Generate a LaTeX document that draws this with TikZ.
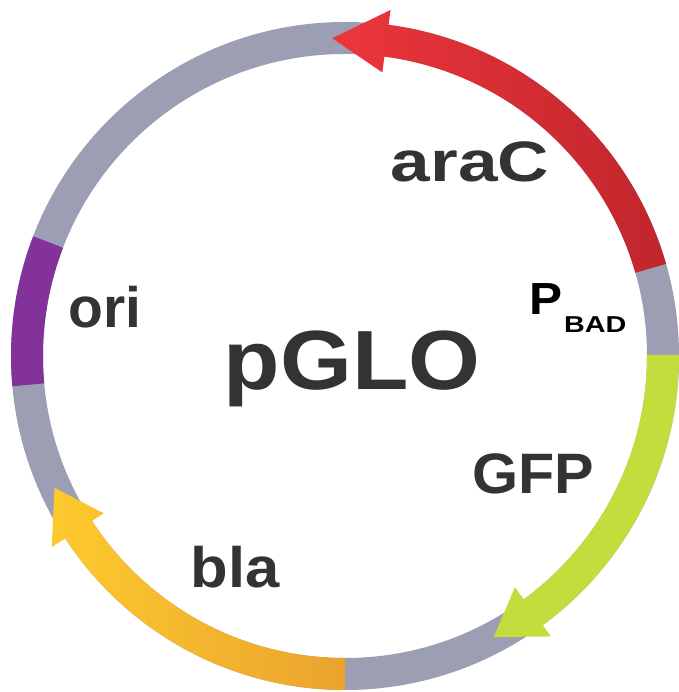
\documentclass[tikz,border=0pt]{standalone}
\usepackage{fontspec,graphicx}
\setmainfont{Liberation Sans}
\usetikzlibrary{positioning}
\definecolor{ringgray}{RGB}{156,158,180}
\definecolor{redlight}{RGB}{236,54,60}
\definecolor{reddark}{RGB}{192,38,44}
\definecolor{greengene}{RGB}{196,221,60}
\definecolor{yellowgene}{RGB}{253,202,46}
\definecolor{orangegene}{RGB}{234,163,46}
\definecolor{purplegene}{RGB}{130,50,152}
\definecolor{labelgray}{RGB}{51,51,51}

\begin{document}
\begin{tikzpicture}[x=1pt, y=1pt,
    gene/.style={inner sep=0pt, anchor=base, text=labelgray, font=\bfseries\fontsize{57}{57}\selectfont}]

                \useasboundingbox (-345,-336) rectangle (333,356);

                % backbone
                \draw [ringgray, line width=32pt] (0,0) circle [radius=318];

                % genes
                \shade [left color=redlight, right color=reddark] (16:334) arc [start angle=16, end angle=82.5, radius=334] -- (82.5:349) -- (92.3:318) -- (82.5:286) -- (82.5:302) arc [start angle=82.5, end angle=16, radius=302] -- cycle;
                \fill [greengene] (0.2:334) arc [start angle=0.2, end angle=-53.7, radius=334] -- (-53.7:348) -- (-62.1:318) -- (-53.7:287) -- (-53.7:302) arc [start angle=-53.7, end angle=0.2, radius=302] -- cycle;
                \shade [left color=yellowgene, right color=orangegene] (270:334) arc [start angle=270, end angle=213.1, radius=334] -- (213.1:350) -- (204.4:319) -- (213.1:288) -- (213.1:302) arc [start angle=213.1, end angle=270, radius=302] -- cycle;
                \fill [purplegene] (159:334) arc [start angle=159, end angle=185.2, radius=334] -- (185.2:302) arc [start angle=185.2, end angle=159, radius=302] -- cycle;

                \node [gene] (araC) at (125,174) {\scalebox{1.25}[1]{araC}};
                \node [gene] (ori) at (-240,28) {ori};
                \node [gene] (GFP) at (188,-137) {\scalebox{1.04}[1]{GFP}};
                \node [gene] (bla) at (-110,-231) {\scalebox{1.08}[1]{bla}};
                \node [gene, font=\bfseries\fontsize{84}{84}\selectfont] (pGLO) at (7,-34) {\scalebox{1.1}[1]{pGLO}};
                \node [inner sep=0pt, anchor=base west, font=\bfseries\fontsize{45}{45}\selectfont] (PBAD) at (184,41) {\scalebox{1.1}[1]{P}\kern2pt\raisebox{-18pt}{\fontsize{23}{23}\selectfont\scalebox{1.25}[1]{BAD}}};
            \end{tikzpicture}
\end{document}
